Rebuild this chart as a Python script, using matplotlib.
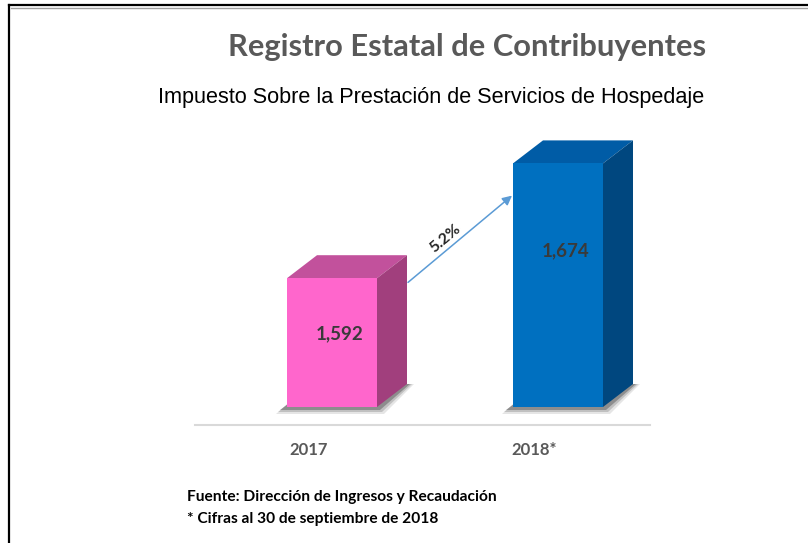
import matplotlib
import matplotlib.pyplot as plt
from matplotlib.patches import Polygon, FancyArrowPatch
from matplotlib.lines import Line2D

matplotlib.use("Agg")

categories = ["2017", "2018*"]
values = [1592, 1674]
growth_label = "5.2%"
front_colors = ["#FF66CC", "#0070C0"]
top_colors = ["#C2519C", "#005CA6"]
side_colors = ["#A13F7D", "#00477F"]

title = "Registro Estatal de Contribuyentes"
subtitle = "Impuesto Sobre la Prestación de Servicios de Hospedaje"
source = "Fuente: Dirección de Ingresos y Recaudación"
note = "* Cifras al 30 de septiembre de 2018"

W, H = 808, 543
fig = plt.figure(figsize=(W / 100, H / 100), dpi=100)

# axes placed in pixel terms
ax_l, ax_r, ax_b, ax_t = 195, 650, 407, 130
px_per_unit = 1.40
ymin = 1500
ax = fig.add_axes([ax_l / W, (H - ax_b) / H, (ax_r - ax_l) / W, (ax_b - ax_t) / H])
xpx = 226.0
x0 = -(332 - ax_l) / xpx
ax.set_xlim(x0, x0 + (ax_r - ax_l) / xpx)
ax.set_ylim(ymin, ymin + (ax_b - ax_t) / px_per_unit)
ax.axis("off")

width = 90 / xpx
dx = 30 / xpx
dy = 23 / px_per_unit
xs = list(range(len(values)))
label_frac = [0.57, 0.64]  # where excel put the value labels inside the bars

# floor shadow
for i, v in enumerate(values):
    l = i - width / 2
    r = i + width / 2
    for k, a in [(7, 0.12), (5, 0.2), (3, 0.35)]:
        ex = k / xpx
        ey = k / px_per_unit
        ax.add_patch(Polygon([(l - ex - 4 / xpx, ymin - ey), (r + ex, ymin - ey),
                              (r + dx + ex, ymin + dy), (l + dx - ex, ymin + dy)],
                             closed=True, facecolor="#303030", edgecolor="none",
                             alpha=a, zorder=1, clip_on=False))

ax.bar(xs, [v - ymin for v in values], bottom=ymin, width=width,
       color=front_colors, edgecolor="none", zorder=3)
for i, v in enumerate(values):
    l = i - width / 2
    r = i + width / 2
    ax.add_patch(Polygon([(l, v), (r, v), (r + dx, v + dy), (l + dx, v + dy)],
                         facecolor=top_colors[i], edgecolor="none", zorder=2, clip_on=False))
    ax.add_patch(Polygon([(r, ymin), (r + dx, ymin + dy), (r + dx, v + dy), (r, v)],
                         facecolor=side_colors[i], edgecolor="none", zorder=2, clip_on=False))
    ax.text(i + 8 / xpx, ymin + (v - ymin) * label_frac[i], f"{v:,}", ha="center",
            va="center", fontsize=13.5, fontweight="bold", color="#3A3A3A",
            family="Lato", zorder=4)
    ax.text(i - 0.105, ymin - 43 / px_per_unit, categories[i], ha="center", va="center",
            fontsize=12, fontweight="bold", color="#595959", family="Lato", clip_on=False)

# growth arrow
start = (0 + width / 2 + dx + 1 / xpx, values[0] - 3)
end = (1 - width / 2 - 1 / xpx, values[1] - 1.4 * dy)
ax.add_patch(FancyArrowPatch(start, end, arrowstyle="-|>", mutation_scale=14,
                             color="#5B9BD5", lw=1.1, zorder=5, clip_on=False,
                             shrinkA=0, shrinkB=0))
mx = (start[0] + end[0]) / 2 - 15 / xpx
my = (start[1] + end[1]) / 2
ax.text(mx, my, growth_label, rotation=40, ha="center", va="center", fontsize=11.5,
        fontweight="bold", color="#262626", family="Lato", rotation_mode="anchor")

# baseline
fig.add_artist(Line2D([ax_l / W, ax_r / W], [(H - 425) / H] * 2, color="#D9D9D9", lw=1.5))

# frame
fig.add_artist(Line2D([9 / W, 9 / W], [0, (H - 5) / H], color="black", lw=1.6))
fig.add_artist(Line2D([9 / W, 1], [(H - 5) / H] * 2, color="black", lw=1.6))
fig.add_artist(Line2D([11 / W, 1], [(H - 7.5) / H] * 2, color="#A0A0A0", lw=1.0))

fig.text(467 / W, 1 - 47 / H, title, ha="center", va="center", fontsize=22.2,
         fontweight="bold", color="#595959", family="Lato")
fig.text(431 / W, 1 - 97 / H, subtitle, ha="center", va="center", fontsize=15.6,
         color="black", family="Liberation Sans")
fig.text(187 / W, 1 - 497 / H, source, ha="left", va="center", fontsize=11.2,
         fontweight="bold", color="black", family="Lato")
fig.text(187 / W, 1 - 519 / H, note, ha="left", va="center", fontsize=11.2,
         fontweight="bold", color="black", family="Lato")

fig.savefig("out.png", dpi=100)
